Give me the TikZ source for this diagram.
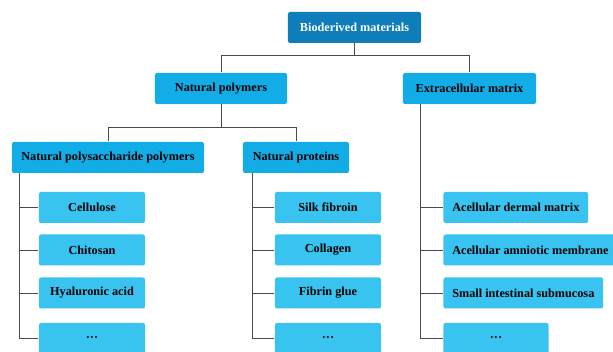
\documentclass[tikz,border=0pt]{standalone}
\usepackage{fontspec}
\setmainfont{Liberation Serif}
\usepackage{xcolor}
\usepackage{tikz}
\usetikzlibrary{calc, positioning}

\definecolor{topblue}{HTML}{0E7DB9}
\definecolor{catblue}{HTML}{12ADE6}
\definecolor{leafblue}{HTML}{38C3F0}
\definecolor{linkgray}{HTML}{4A4A4A}

\begin{document}
\begin{tikzpicture}[
    x=0.025cm, y=-0.025cm,
    font=\fontsize{8.7}{10}\selectfont\bfseries,
    line width=0.7pt,
    box/.style={rectangle, rounded corners=1.5pt, minimum height=0.775cm, inner xsep=0.22cm, inner ysep=0pt},
    topbox/.style={box, fill=topblue, text=white, minimum width=3.325cm},
    catbox/.style={box, fill=catblue},
    leafbox/.style={box, fill=leafblue, minimum width=2.65cm},
    link/.style={draw=linkgray},
]

%------------------------------------------------------------
% canvas (pixel units, y runs downward)
%------------------------------------------------------------
\useasboundingbox[fill=white] (0,0) rectangle (613,352);

\def\ya{207.5}   % leaf rows
\def\yb{250}
\def\yc{293}
\def\yd{338.5}
\def\more{·{}·{}·}

%============================================================
%  upper levels
%============================================================
\node[topbox] (bio) at (354.5,27.5) {Bioderived materials};

\node[catbox, minimum width=3.3cm]   (natpoly) at (221,88.5)   {Natural polymers};
\node[catbox, minimum width=3.325cm] (ecm)     at (469.5,88.5) {Extracellular matrix};

\node[catbox, minimum width=4.8cm]  (polysac) at (108,157.5) {Natural polysaccharide polymers};
\node[catbox, minimum width=2.65cm] (protein) at (296,157.5) {Natural proteins};

% tree links
\draw[link] (bio.south) -- ++(0,12) -| (natpoly.north);
\draw[link] (bio.south) -- ++(0,12) -| (ecm.north);
\draw[link] (natpoly.south) -- ++(0,23) -| (polysac.north);
\draw[link] (natpoly.south) -- ++(0,23) -| (protein.north);

%============================================================
%  leaves
%============================================================
% --- polysaccharides ---
\node[leafbox] (cellulose) at (92,\ya) {Cellulose};
\node[leafbox] (chitosan)  at (92,\yb) {Chitosan};
\node[leafbox] (hyaluron)  at (92,\yc) {Hyaluronic acid};
\node[leafbox] (moreA)     at (92,\yd) {\more};

% --- proteins ---
\node[leafbox] (silk)     at (328,\ya) {Silk fibroin};
\node[leafbox] (collagen) at (328,\yb) {Collagen};
\node[leafbox] (fibrin)   at (328,\yc) {Fibrin glue};
\node[leafbox] (moreB)    at (328,\yd) {\more};

% --- extracellular matrix ---
\node[leafbox, anchor=west, minimum width=2.625cm] (dermal)   at (443,\ya) {Acellular dermal matrix};
\node[leafbox, anchor=west, minimum width=2.625cm] (amnion)   at (443,\yb) {Acellular amniotic membrane};
\node[leafbox, anchor=west, minimum width=2.625cm] (intest)   at (443,\yc) {Small intestinal submucosa};
\node[leafbox, anchor=west, minimum width=2.625cm] (moreC)    at (443,\yd) {\more};

% spines
\coordinate (spineA) at ($(polysac.south west)+(8,0)$);
\coordinate (spineB) at ($(protein.south west)+(10,0)$);
\coordinate (spineC) at ($(ecm.south west)+(18,0)$);

\draw[link] (spineA) |- (moreA.west);
\draw[link] (spineB) |- (moreB.west);
\draw[link] (spineC) |- (moreC.west);

\foreach \n in {cellulose, chitosan, hyaluron}
    \draw[link] (spineA |- \n.west) -- (\n.west);
\foreach \n in {silk, collagen, fibrin}
    \draw[link] (spineB |- \n.west) -- (\n.west);
\foreach \n in {dermal, amnion, intest}
    \draw[link] (spineC |- \n.west) -- (\n.west);

\end{tikzpicture}
\end{document}
